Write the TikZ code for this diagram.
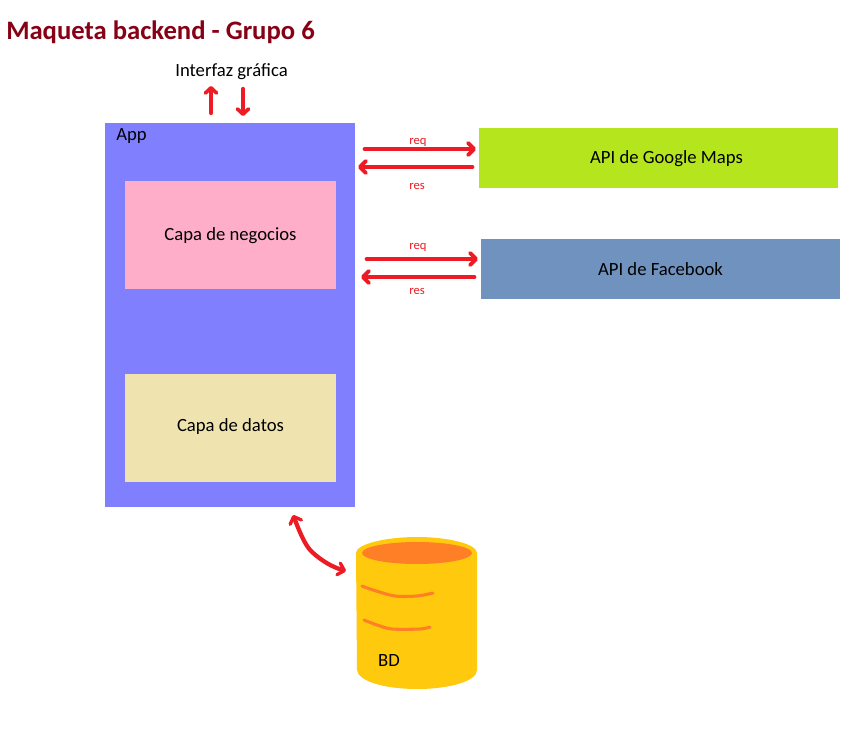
\documentclass[tikz,border=0pt]{standalone}
\usepackage{fontspec}
\setmainfont{Carlito}
\usetikzlibrary{arrows.meta}
\definecolor{appblue}{HTML}{8080FF}
\definecolor{bpink}{HTML}{FFAEC9}
\definecolor{bcream}{HTML}{EFE4B0}
\definecolor{bgreen}{HTML}{B5E61D}
\definecolor{bsteel}{HTML}{7092BE}
\definecolor{dbyellow}{HTML}{FFC90E}
\definecolor{dborange}{HTML}{FF7F27}
\definecolor{ared}{HTML}{ED1C24}
\definecolor{titlered}{HTML}{880015}
\tikzset{
  x=0.75pt,y=-0.75pt,
  box/.style={anchor=north west,inner sep=0pt,outer sep=0pt,font=\fontsize{14}{16}\selectfont},
  lbl/.style={inner sep=0pt,font=\fontsize{14}{16}\selectfont},
  small/.style={inner sep=0pt,text=ared,font=\fontsize{9.5}{11}\selectfont},
  conn/.style={draw=ared,line width=3.6pt,line cap=round,line join=round,
    -{Straight Barb[length=4.5pt,width=9pt,line width=2.9pt,round]}},
  connb/.style={draw=ared,line width=3.2pt,line cap=round,line join=round,
    {Straight Barb[length=4.5pt,width=9pt,line width=2.5pt,round]}-{Straight Barb[length=4.5pt,width=9pt,line width=2.5pt,round]}},
  conns/.style={draw=ared,line width=3.2pt,line cap=round,line join=round,
    -{Straight Barb[length=4pt,width=8.5pt,line width=2.7pt,round]}},
  stroke/.style={draw=dborange,line width=2.3pt,line cap=round,line join=round},
}
\begin{document}
\begin{tikzpicture}
\useasboundingbox (0,0) rectangle (861,735);
\fill[white] (0,0) rectangle (861,735);
% boxes
\node[box,fill=appblue,minimum width=187.5pt,minimum height=288pt] (app) at (105,123) {};
\node[lbl,anchor=west] (applabel) at (116,136) {App};
\node[box,fill=bpink,minimum width=158.25pt,minimum height=81pt,text depth=1.5pt] (negocios) at (125,181) {Capa de negocios};
\node[box,fill=bcream,minimum width=158.25pt,minimum height=81pt,text depth=4pt] (datos) at (125,374) {Capa de datos};
\node[box,fill=bgreen,minimum width=269.25pt,minimum height=45pt,text depth=1.5pt] (maps) at (479,128) {\hspace*{12pt}API de Google Maps};
\node[box,fill=bsteel,minimum width=269.25pt,minimum height=45pt] (facebook) at (481,239) {API de Facebook};
% texts
\node[inner sep=0pt,anchor=west,text=titlered,font=\fontsize{20}{24}\selectfont\bfseries] (title) at (6,32) {Maqueta backend - Grupo 6};
\node[lbl] (gui) at (231.5,72) {Interfaz gráfica};
\node[small] (req1) at (418,142) {req};
\node[small] (res1) at (417,186) {res};
\node[small] (req2) at (418,247) {req};
\node[small] (res2) at (417,291) {res};
% database
\fill[dbyellow] (356,553) .. controls (356,544) and (386,537) .. (417,537)
  .. controls (448,537) and (477,544) .. (477,553) -- (477,670)
  .. controls (477,681) and (450,689) .. (417,689)
  .. controls (384,689) and (358,681) .. (357,670) -- cycle;
\fill[dborange] (417,553) ellipse [x radius=55,y radius=11];
\draw[stroke] plot[smooth] coordinates {(362,586) (373,590) (395,596) (417,596) (433,593)};
\draw[stroke] plot[smooth] coordinates {(364,620) (377,625) (392,629) (420,629) (430,627)};
\node[lbl] (bd) at (389,661) {BD};
% connector ends
\coordinate (upA) at (211,113); \coordinate (upB) at (211,86);
\coordinate (dnA) at (243,89);  \coordinate (dnB) at (243,116);
\coordinate (r1a) at (365,149); \coordinate (r1b) at (476,149);
\coordinate (s1a) at (472,167); \coordinate (s1b) at (358,167);
\coordinate (r2a) at (367,259); \coordinate (r2b) at (478,259);
\coordinate (s2a) at (474,277); \coordinate (s2b) at (361,277);
\coordinate (dbA) at (293,515); \coordinate (dbB) at (346,571);
% connectors
\draw[conns] (upA) -- (upB);
\draw[conns] (dnA) -- (dnB);
\draw[conn] (r1a) -- (r1b);
\draw[conn] (s1a) -- (s1b);
\draw[conn] (r2a) -- (r2b);
\draw[conn] (s2a) -- (s2b);
\draw[connb] (dbA) .. controls (302,538) and (306,546) .. (312,552)
  .. controls (322,561) and (332,567) .. (dbB);
\end{tikzpicture}
\end{document}
